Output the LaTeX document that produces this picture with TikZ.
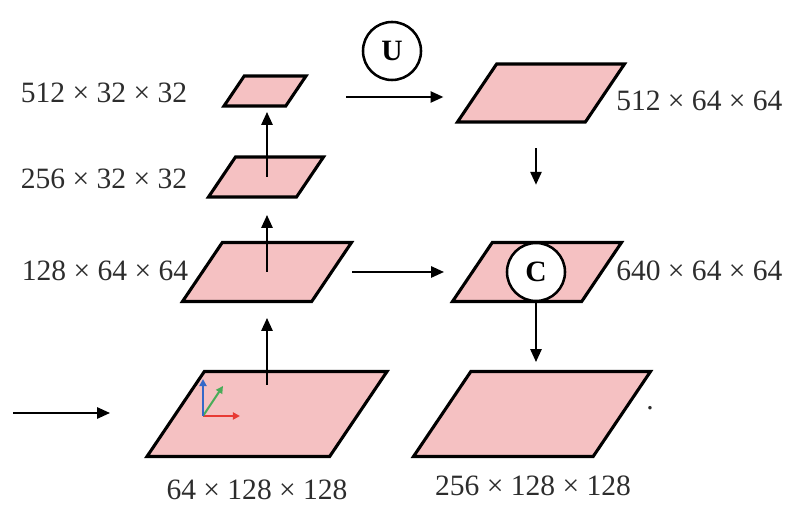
\documentclass[tikz,border=0pt]{standalone}
\usepackage{fontspec}
\setmainfont{Liberation Serif}
\usepackage{tikz}
\usepackage{xcolor}
\usetikzlibrary{arrows.meta,positioning}
\definecolor{mapfill}{RGB}{245, 193, 194}
\definecolor{labelgray}{RGB}{45, 45, 45}
\definecolor{axred}{RGB}{232, 58, 52}
\definecolor{axgreen}{RGB}{72, 172, 88}
\definecolor{axblue}{RGB}{52, 104, 200}
\tikzstyle{arrow} = [
    line width=1.3pt,
    -{Triangle[length=3.2mm,width=2.8mm]},
    draw=black
]
\tikzstyle{fmap} = [
    draw=black,
    line width=2.2pt,
    line join=miter,
    fill=mapfill
]
\tikzstyle{op} = [
    circle,
    minimum size=1.45cm,
    inner sep=0pt,
    draw=black,
    line width=1.8pt,
    fill=white,
    font=\fontsize{21}{24}\selectfont\bfseries
]
\tikzstyle{dim} = [
    text=labelgray,
    inner sep=0pt,
    font=\fontsize{21}{25}\selectfont
]
\tikzstyle{axis} = [
    line width=1.4pt,
    -{Triangle[length=1.8mm,width=1.8mm]}
]
% feature map: name, centre x, centre y, width, height (pixel units)
\newcommand{\featmap}[5]{%
    \coordinate (#1) at (#2,#3);
    \filldraw[fmap, shift={(#2,#3)}]
        ({-#4/2},{#5/2}) -- ({#4/2-0.6745*#5},{#5/2})
        -- ({#4/2},{-#5/2}) -- ({-#4/2+0.6745*#5},{-#5/2}) -- cycle;
}

\begin{document}
\begin{tikzpicture}[x=0.025cm, y=-0.025cm]
        \useasboundingbox (0,0) rectangle (805,530);

        % Encoder maps
        \featmap{L512}{265}{91}{82}{30}
        \featmap{L256}{266}{177}{115}{40}
        \featmap{L128}{267}{272}{169}{59}
        \featmap{L64}{267}{414}{240}{85}

        % Decoder maps
        \featmap{R512}{541}{93}{167}{58}
        \featmap{R640}{537}{272}{169}{59}
        \featmap{R256}{532}{414}{237}{85}

        % Operations
        \node[op] (U) at (392,51) {U};
        \node[op] (C) at (536,272) {C};

        % Axes
        \coordinate (ax) at (203,416);
        \draw[axis, axred] (ax) -- ++(37,0);
        \draw[axis, axgreen] (ax) -- ++(20,-30);
        \draw[axis, axblue] (ax) -- ++(0,-37);

        % Arrows
        \coordinate (in) at (13,413);
        \coordinate (inend) at (110,413);
        \draw[arrow] (in) -- (inend);
        \draw[arrow, shorten <=0.725cm, shorten >=1.15cm] (L64) -- (L128 -| L64);
        \draw[arrow, shorten >=0.95cm] (L128) -- (L256 -| L128);
        \draw[arrow, shorten >=0.525cm] (L256 -| L128) -- (L512 -| L128);
        \draw[arrow, shorten <=2.025cm, shorten >=2.44cm] ([yshift=-0.15cm]L512) -- ([yshift=-0.1cm]R512);
        \draw[arrow, shorten <=2.125cm, shorten >=2.325cm] (L128) -- (R640);
        \draw[arrow, shorten <=1.375cm, shorten >=1.425cm] (C |- R512) -- (C);
        \draw[arrow, shorten >=1.3cm] (C.south) -- (R256 -| C);

        % Labels
        \node[dim] (t1) at (104,93) {512 × 32 × 32};
        \node[dim] (t2) at (104,179) {256 × 32 × 32};
        \node[dim] (t3) at (105,271) {128 × 64 × 64};
        \node[dim] (t4) at (257,490) {64 × 128 × 128};
        \node[dim, anchor=west] (t5) at (616,101) {512 × 64 × 64};
        \node[dim, anchor=west] (t6) at (616,271) {640 × 64 × 64};
        \node[dim] (t7) at (533,486) {256 × 128 × 128};
        \node[dim] (dot) at (650,408) {.};
    \end{tikzpicture}
\end{document}
